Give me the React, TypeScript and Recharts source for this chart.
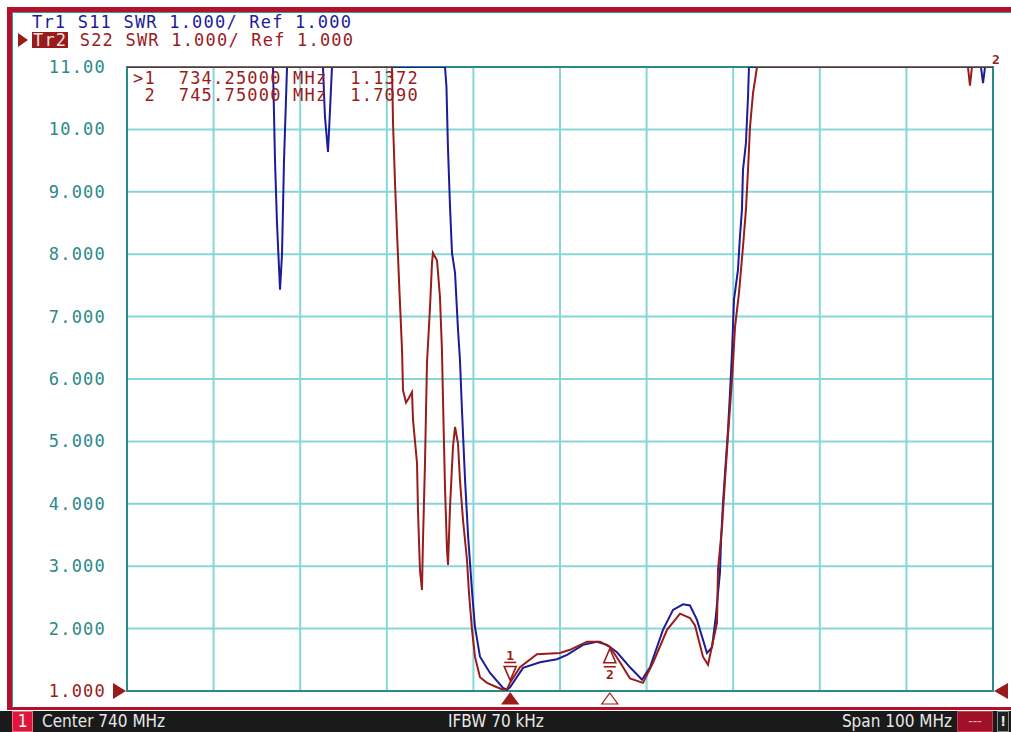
import React from 'react';
import { LineChart, Line, XAxis, YAxis, CartesianGrid, ReferenceDot, ReferenceArea } from 'recharts';

// S11 (Tr1, blue) trace
const s11Freq = [690, 706.86, 707.09, 707.32, 707.67, 707.9, 708.13, 708.48, 712.63, 712.86, 713.21, 713.44, 713.67, 726.72, 726.89, 727.06, 727.3, 727.53, 727.88, 728.22, 728.45, 728.68, 729.03, 729.38, 729.84, 730.18, 730.76, 731.92, 733.42, 733.88, 734.23, 735.73, 737.69, 739.65, 740.81, 742.66, 744.27, 745.43, 746.58, 748.08, 749.47, 750.39, 751.89, 753.05, 754.2, 755.01, 755.82, 756.97, 757.55, 758.0, 758.47, 758.6, 758.82, 759.16, 759.4, 759.63, 759.86, 760.09, 760.55, 760.78, 761.01, 761.13, 761.47, 761.71, 761.82, 788.61, 788.85, 789.08, 790];
const s11Swr = [11, 11, 9.5, 8.5, 7.43, 8.0, 9.5, 11, 11, 10.2, 9.64, 10.3, 11, 11, 10.68, 9.72, 8.76, 8.02, 7.7, 6.8, 6.3, 5.5, 4.4, 3.5, 2.6, 2.03, 1.55, 1.29, 1.05, 1.02, 1.06, 1.37, 1.46, 1.51, 1.58, 1.74, 1.79, 1.74, 1.62, 1.38, 1.18, 1.38, 1.98, 2.3, 2.39, 2.37, 2.14, 1.61, 1.7, 2.2, 2.9, 3.42, 4.01, 4.7, 5.18, 5.78, 6.42, 7.27, 7.75, 8.28, 8.71, 9.35, 9.78, 10.52, 11, 11, 10.74, 11, 11];

// S22 (Tr2, red) trace
const s22Freq = [690, 720.6, 720.72, 720.95, 721.18, 721.52, 721.76, 721.87, 722.22, 722.56, 722.91, 723.03, 723.49, 723.6, 723.83, 724.06, 724.18, 724.41, 724.64, 724.99, 725.22, 725.33, 725.8, 726.14, 726.37, 726.49, 726.72, 726.95, 727.07, 727.3, 727.64, 727.88, 728.22, 728.45, 728.8, 729.26, 729.49, 729.84, 730.18, 730.76, 731.57, 732.72, 733.42, 733.88, 734.25, 735.38, 737.34, 740.0, 741.15, 743.12, 744.62, 745.75, 746.93, 748.08, 749.58, 750.74, 752.36, 753.86, 755.01, 755.59, 756.51, 757.09, 758.13, 758.24, 758.71, 759.05, 759.4, 759.86, 760.21, 760.67, 761.13, 761.47, 761.71, 761.94, 762.29, 762.75, 787.11, 787.34, 787.57, 790];
const s22Swr = [11, 11, 10.1, 9.14, 8.34, 7.22, 6.46, 5.82, 5.62, 5.7, 5.79, 5.34, 4.65, 3.9, 2.94, 2.62, 3.42, 4.65, 6.26, 7.15, 7.86, 8.02, 7.9, 7.31, 6.46, 5.66, 4.27, 3.26, 3.02, 3.95, 4.91, 5.23, 4.97, 4.38, 3.74, 3.1, 2.57, 1.98, 1.55, 1.22, 1.13, 1.06, 1.02, 1.03, 1.1372, 1.38, 1.59, 1.61, 1.66, 1.79, 1.79, 1.709, 1.46, 1.2, 1.13, 1.45, 1.98, 2.24, 2.17, 2.05, 1.55, 1.42, 2.09, 2.94, 3.63, 4.38, 5.1, 5.98, 6.83, 7.38, 8.12, 8.71, 9.35, 10.04, 10.58, 11, 11, 10.7, 11, 11];

const markerFreq = [734.25, 745.75];
const markerSwr = [1.1372, 1.709];
const markerLabels = ['1', '2'];

const freqTicks = [690, 700, 710, 720, 730, 740, 750, 760, 770, 780, 790];
const swrTicks = [1, 2, 3, 4, 5, 6, 7, 8, 9, 10, 11];

const BLUE = '#1c1c98';
const RED = '#981c1c';
const TEAL = '#2a8a8a';
const GRID = '#86d6d6';
const MONO = '"DejaVu Sans Mono", "Liberation Mono", monospace';
const STATUS_FONT = '"DejaVu Sans Condensed", "DejaVu Sans", sans-serif';

const s11Data = s11Freq.map((f, i) => ({ f, swr: s11Swr[i] }));
const s22Data = s22Freq.map((f, i) => ({ f, swr: s22Swr[i] }));

const fmtSwr = (v: number) => (v >= 10 ? v.toFixed(2) : v.toFixed(3));

const SwrTick = (props: any) => {
  const { x, y, payload } = props;
  const v = payload.value;
  return (
    <text x={x - 13} y={y} dy={6} textAnchor="end" fill={v === 1 ? RED : TEAL} fontFamily={MONO} fontSize={17} letterSpacing={1.2}>
      {fmtSwr(v)}
    </text>
  );
};

const TraceMarker = (label: string, above: boolean) => (props: any) => {
  const { cx, cy } = props;
  if (above) {
    return (
      <g stroke={RED} fill="none" strokeWidth={1.6}>
        <path d={`M${cx - 6},${cy - 16} L${cx + 6},${cy - 16} L${cx},${cy - 2} Z`} />
        <line x1={cx - 6} y1={cy - 20} x2={cx + 6} y2={cy - 20} />
        <text x={cx} y={cy - 22} textAnchor="middle" fill={RED} stroke="none" fontFamily={MONO} fontSize={13} fontWeight="bold">{label}</text>
      </g>
    );
  }
  return (
    <g stroke={RED} fill="none" strokeWidth={1.6}>
      <path d={`M${cx - 6},${cy + 16} L${cx + 6},${cy + 16} L${cx},${cy + 2} Z`} />
      <line x1={cx - 6} y1={cy + 20} x2={cx + 6} y2={cy + 20} />
      <text x={cx} y={cy + 32} textAnchor="middle" fill={RED} stroke="none" fontFamily={MONO} fontSize={13} fontWeight="bold">{label}</text>
    </g>
  );
};

const AxisMarker = (filled: boolean) => (props: any) => {
  const { cx, cy } = props;
  return (
    <path d={`M${cx},${cy + 2} L${cx + 8},${cy + 13} L${cx - 8},${cy + 13} Z`} fill={filled ? RED : '#fff'} stroke={RED} strokeWidth={1.2} />
  );
};

const RefLeft = (props: any) => {
  const { cx, cy } = props;
  return <path d={`M${cx - 1},${cy} L${cx - 14},${cy - 8} L${cx - 14},${cy + 8} Z`} fill={RED} />;
};

const RefRight = (props: any) => {
  const { cx, cy } = props;
  return <path d={`M${cx + 1},${cy} L${cx + 15},${cy - 8} L${cx + 15},${cy + 8} Z`} fill={RED} />;
};

export default function App() {
  return (
    <div style={{ position: 'absolute', left: 0, top: 0, width: 1011, height: 732, background: '#fff', overflow: 'hidden' }}>
      {/* window frame */}
      <div style={{ position: 'absolute', left: 7, top: 7, width: 1010, height: 703, borderLeft: '5px solid #b3102c', borderTop: '5px solid #b3102c', borderBottom: '3px solid #b3102c', boxSizing: 'border-box' }} />
      <div style={{ position: 'absolute', left: 12, top: 12, width: 1000, height: 696, borderLeft: '1px solid #3a9a9a', borderTop: '1px solid #3a9a9a', boxSizing: 'border-box' }} />

      {/* trace headers */}
      <div style={{ position: 'absolute', left: 32, top: 14, fontFamily: MONO, fontSize: 17, letterSpacing: 1.2, color: BLUE, whiteSpace: 'pre', lineHeight: '16px' }}>
        Tr1 S11 SWR 1.000/ Ref 1.000
      </div>
      <div style={{ position: 'absolute', left: 18, top: 32, fontFamily: MONO, fontSize: 17, letterSpacing: 1.2, color: RED, whiteSpace: 'pre', lineHeight: '16px', display: 'flex', alignItems: 'center' }}>
        <span style={{ display: 'inline-block', width: 0, height: 0, borderTop: '7px solid transparent', borderBottom: '7px solid transparent', borderLeft: '10px solid ' + RED, marginRight: 4 }} />
        <span style={{ background: RED, color: '#f4dede', padding: '0 1px', lineHeight: '16px' }}>Tr2</span>
        <span> S22 SWR 1.000/ Ref 1.000</span>
      </div>

      <LineChart width={1011} height={732} data={s22Data} margin={{ top: 67, right: 18, bottom: 41, left: 17 }} style={{ position: 'absolute', left: 0, top: 0 }}>
        <CartesianGrid stroke={GRID} strokeWidth={2} fill="#fff" fillOpacity={0} />
        <XAxis dataKey="f" type="number" domain={[690, 790]} ticks={freqTicks} hide allowDataOverflow />
        <YAxis type="number" domain={[1, 11]} ticks={swrTicks} width={110} axisLine={false} tickLine={false} tick={<SwrTick />} allowDataOverflow />
        <ReferenceArea x1={690} x2={790} y1={1} y2={11} fill="none" stroke={TEAL} strokeWidth={2} ifOverflow="visible" />
        <Line data={s11Data} dataKey="swr" type="linear" stroke={BLUE} strokeWidth={2} dot={false} isAnimationActive={false} />
        <Line data={s22Data} dataKey="swr" type="linear" stroke={RED} strokeWidth={2} dot={false} isAnimationActive={false} />
        {markerFreq.map((f, i) => (
          <ReferenceDot key={'m' + i} x={f} y={markerSwr[i]} ifOverflow="visible" shape={TraceMarker(markerLabels[i], i === 0)} />
        ))}
        {markerFreq.map((f, i) => (
          <ReferenceDot key={'a' + i} x={f} y={1} ifOverflow="visible" shape={AxisMarker(i === 0)} />
        ))}
        <ReferenceDot x={690} y={1} ifOverflow="visible" shape={RefLeft} />
        <ReferenceDot x={790} y={1} ifOverflow="visible" shape={RefRight} />
      </LineChart>

      {/* marker readout */}
      <div style={{ position: 'absolute', left: 133, top: 70, fontFamily: MONO, fontSize: 17, letterSpacing: 1.2, color: RED, whiteSpace: 'pre', lineHeight: '17px' }}>
        {`>1  ${markerFreq[0].toFixed(5)} MHz  ${markerSwr[0].toFixed(4)}\n ${markerLabels[1]}  ${markerFreq[1].toFixed(5)} MHz  ${markerSwr[1].toFixed(4)}`}
      </div>
      <div style={{ position: 'absolute', left: 992, top: 52, fontFamily: MONO, fontSize: 13, fontWeight: 'bold', color: RED }}>2</div>

      {/* status bar */}
      <div style={{ position: 'absolute', left: 0, top: 711, width: 1011, height: 21, background: '#1a1a1a', color: '#e8e8e8', fontFamily: STATUS_FONT, fontSize: 17, lineHeight: '21px' }}>
        <div style={{ position: 'absolute', left: 12, top: 0, width: 21, height: 21, background: '#e0143c', color: '#fff', textAlign: 'center', boxSizing: 'border-box', border: '1px solid #f07080', lineHeight: '19px' }}>1</div>
        <div style={{ position: 'absolute', left: 42, top: 0 }}>Center 740 MHz</div>
        <div style={{ position: 'absolute', left: 448, top: 0 }}>IFBW 70 kHz</div>
        <div style={{ position: 'absolute', right: 59, top: 0 }}>Span 100 MHz</div>
        <div style={{ position: 'absolute', left: 957, top: 0, width: 36, height: 21, background: '#a01028', color: '#f0b0b8', textAlign: 'center', boxSizing: 'border-box', border: '1px solid #c04050', fontSize: 14, lineHeight: '19px' }}>---</div>
        <div style={{ position: 'absolute', left: 997, top: 0, width: 12, height: 21, background: '#202020', textAlign: 'center', border: '1px solid #888', boxSizing: 'border-box', fontWeight: 'bold', fontSize: 14, lineHeight: '19px' }}>!</div>
      </div>
    </div>
  );
}
